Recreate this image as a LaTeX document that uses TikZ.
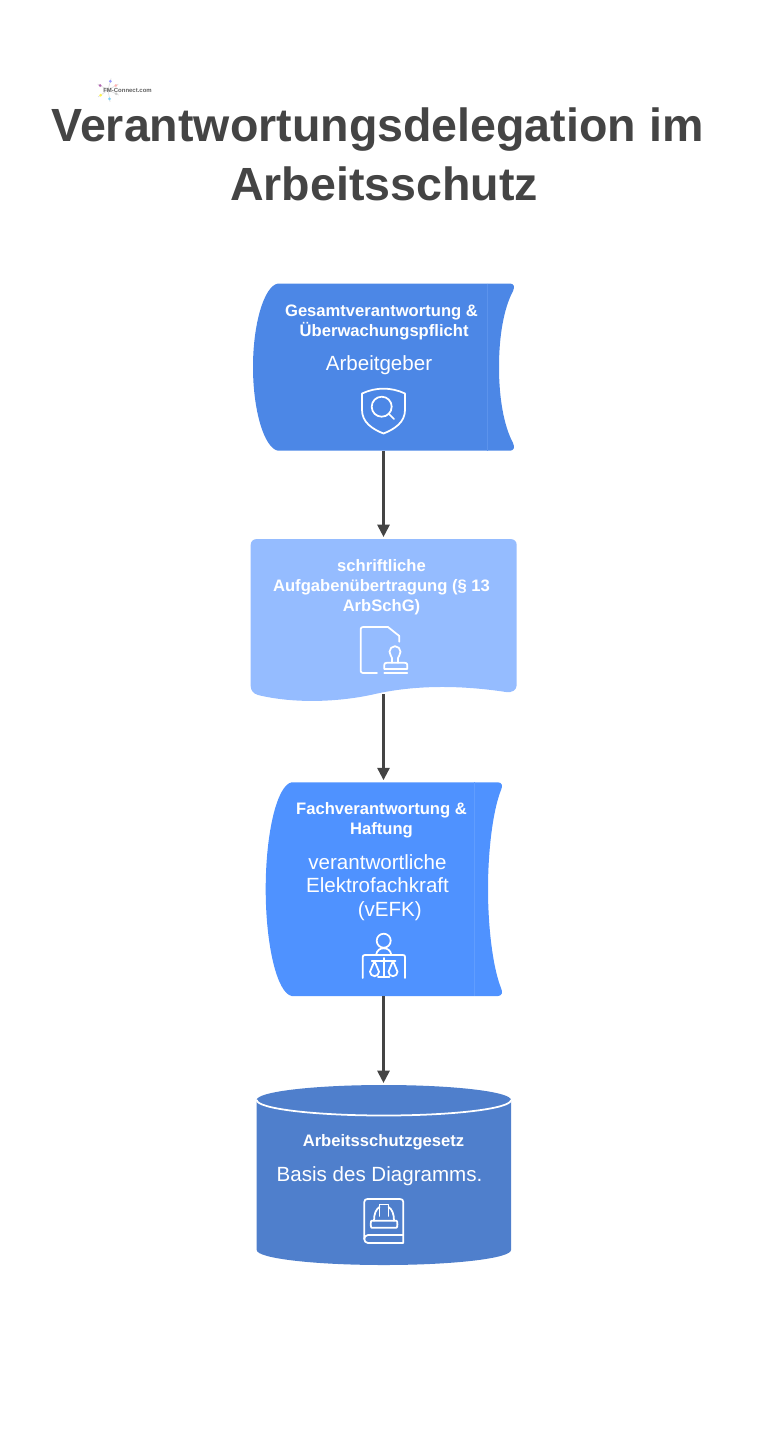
\documentclass[tikz,border=0pt]{standalone}
\usepackage{fontspec}
\setmainfont{Liberation Sans}
\usetikzlibrary{arrows.meta}
\definecolor{darkgrey}{HTML}{444444}
\definecolor{boxone}{HTML}{4C87E6}
\definecolor{boxonel}{HTML}{5C93EC}
\definecolor{boxtwo}{HTML}{95BCFF}
\definecolor{boxthree}{HTML}{4F92FF}
\definecolor{boxthreel}{HTML}{609DFF}
\definecolor{boxfour}{HTML}{4F7FCC}
\tikzset{
  heading/.style={text=darkgrey,align=center,inner sep=0pt,font=\fontsize{26.5}{33.7}\selectfont\bfseries},
  boldtext/.style={text=white,align=center,inner sep=0pt,font=\fontsize{9.45}{11.4}\selectfont\bfseries},
  plaintext/.style={text=white,align=center,inner sep=0pt,font=\fontsize{11.7}{13.3}\selectfont},
  anchorbox/.style={inner sep=0pt,minimum width=#1},
  icon/.style={white,line width=1pt,line cap=round,line join=round},
  link/.style={darkgrey,line width=1.2pt,-{Triangle[length=7pt,width=7pt]},shorten >=1pt}
}
\begin{document}
\begin{tikzpicture}[x=0.02cm,y=0.02cm]
\useasboundingbox (0,0) rectangle (769,-1451);
% logo
\foreach \ang/\col in {75/blue!40,150/violet!60,215/yellow!70,280/cyan!50,335/gray!40,30/red!30} {
  \draw [gray!25,line width=0.4pt] (108,-90) -- ++(\ang:12);
  \fill [\col] (108,-90) ++(\ang:9) circle (1.5);
}
\node (logo) at (127.5,-90.5) [inner sep=0pt,text=darkgrey!85,font=\fontsize{3.4}{4}\selectfont\bfseries] {FM-Connect.com};
% title
\node (title) at (377.5,-154) [heading] {Verantwortungsdelegation im\\\hspace*{7.4pt}Arbeitsschutz};
% box one
\draw [fill=boxone,draw=none] (278,-283.5) -- (510,-283.5) .. controls (514,-283.5) and (515,-287) .. (513,-291) .. controls (504,-308) and (499,-335) .. (499,-367) .. controls (499,-399) and (504,-426) .. (513,-443) .. controls (515,-447) and (514,-450.7) .. (510,-450.7) -- (278,-450.7) .. controls (264,-448) and (253,-410) .. (253,-367) .. controls (253,-324) and (264,-286) .. (278,-283.5);
\draw [boxonel,line width=0.5pt] (487,-283.5) -- (487,-450.7);
\node (gesamt) at (383.5,-367) [anchorbox=5.2cm,minimum height=3.344cm] {};
\node (gesamthead) at (381.5,-322) [boldtext] {Gesamtverantwortung \&\\\hspace*{3pt}Überwachungspflicht};
\node (arbeitgeber) at (379,-365) [plaintext] {Arbeitgeber};
\draw [icon] (383.5,-433.5) .. controls (372,-429) and (362,-422) .. (362,-410) -- (362,-393.5) .. controls (376,-387) and (391,-387) .. (405,-393.5) -- (405,-410) .. controls (405,-422) and (395,-429) .. (383.5,-433.5);
\draw [icon] (381.7,-406.7) circle (10);
\draw [icon] (389,-414) -- (394,-419);
% box two
\draw [fill=boxtwo,draw=none] (257,-539) -- (510,-539) .. controls (514.5,-539) and (516.7,-541.5) .. (516.7,-545) -- (516.7,-685) .. controls (516.7,-690) and (512,-693) .. (506,-692) .. controls (460,-685) and (415,-685) .. (375,-694) .. controls (340,-702) and (295,-704) .. (258,-695) .. controls (253,-693.5) and (250.7,-690) .. (250.7,-686) -- (250.7,-545) .. controls (250.7,-541.5) and (253,-539) .. (257,-539);
\node (aufgabe) at (383.5,-616.5) [anchorbox=5.3cm,minimum height=3.1cm] {};
\node (aufgabehead) at (381.5,-587) [boldtext] {schriftliche\\Aufgabenübertragung (§ 13\\ArbSchG)};
\draw [icon] (377,-673) -- (363,-673) .. controls (361.5,-673) and (360.7,-672) .. (360.7,-671) -- (360.7,-629) .. controls (360.7,-628) and (361.5,-627) .. (363,-627) -- (388,-627) -- (399.3,-636) -- (399.3,-641.7);
\draw [icon] (392,-662.7) -- (392,-658) .. controls (392,-656.5) and (389.5,-655) .. (389.5,-651.7) arc (180:0:5.5) .. controls (400.5,-655) and (398,-656.5) .. (398,-658) -- (398,-662.7);
\draw [icon] (384.3,-669) -- (384.3,-665) .. controls (384.3,-663.5) and (385,-662.7) .. (387,-662.7) -- (404.5,-662.7) .. controls (406.5,-662.7) and (407.3,-663.5) .. (407.3,-665) -- (407.3,-669) -- cycle;
\draw [icon] (384.3,-673) -- (407.3,-673);
% box three
\draw [fill=boxthree,draw=none] (291.7,-782.3) -- (498,-782.3) .. controls (502,-782.3) and (503,-786) .. (501,-790) .. controls (493,-810) and (488,-850) .. (488,-889) .. controls (488,-928) and (493,-968) .. (501,-988) .. controls (503,-992) and (502,-996) .. (498,-996) -- (291.7,-996) .. controls (277,-993) and (265.7,-945) .. (265.7,-889) .. controls (265.7,-833) and (277,-785) .. (291.7,-782.3);
\draw [boxthreel,line width=0.5pt] (474,-782.3) -- (474,-996);
\node (fach) at (383.5,-889) [anchorbox=4.7cm,minimum height=4.274cm] {};
\node (fachhead) at (381.5,-820) [boldtext] {Fachverantwortung \&\\Haftung};
\node (vefk) at (377.5,-887.5) [plaintext] {verantwortliche\\Elektrofachkraft\\\hspace*{14pt}(vEFK)};
\draw [icon] (383.7,-940.7) circle (7);
\draw [icon] (376,-955) .. controls (377,-950) and (380,-948.3) .. (383.7,-948.3) .. controls (387.4,-948.3) and (390.4,-950) .. (391.4,-955);
\draw [icon] (362.7,-978) -- (362.7,-957) .. controls (362.7,-955.7) and (363.5,-955) .. (365,-955) -- (403,-955) .. controls (404.5,-955) and (405,-955.7) .. (405,-957) -- (405,-978);
\draw [icon] (383.7,-958) -- (383.7,-976.7);
\draw [icon] (378,-976.7) -- (389.5,-976.7);
\draw [icon] (371.7,-960.7) -- (395.5,-960.7);
\draw [icon] (374.5,-961) -- (370,-971.7) arc (180:360:4.5) -- cycle;
\draw [icon] (393,-961) -- (388.5,-971.7) arc (180:360:4.5) -- cycle;
% box four
\draw [fill=boxfour,draw=none] (256.7,-1100) arc (180:0:127.15 and 15) -- (511,-1250) arc (0:-180:127.15 and 15) -- cycle;
\draw [white,line width=1pt] (256.7,-1100) arc (180:360:127.15 and 15.5);
\node (gesetz) at (383.5,-1175) [anchorbox=5.08cm,minimum height=3.6cm] {};
\node (gesetzhead) at (383.5,-1142.5) [boldtext] {Arbeitsschutzgesetz};
\node (basis) at (379.5,-1176) [plaintext] {Basis des Diagramms.};
\draw [icon] (403.3,-1235) -- (368,-1235) .. controls (365.5,-1235) and (364.3,-1237) .. (364.3,-1239) .. controls (364.3,-1241) and (365.5,-1243) .. (368,-1243) -- (403.3,-1243) -- (403.3,-1235);
\draw [icon] (364.3,-1239) -- (364.3,-1202) .. controls (364.3,-1200) and (365.5,-1199) .. (367.5,-1199) -- (400,-1199) .. controls (402,-1199) and (403.3,-1200) .. (403.3,-1202) -- (403.3,-1235);
\draw [icon] (373,-1220.7) -- (371.5,-1220.7) .. controls (370.5,-1220.7) and (370.5,-1227.7) .. (371.5,-1227.7) -- (396.5,-1227.7) .. controls (397.7,-1227.7) and (397.7,-1220.7) .. (396.5,-1220.7) -- cycle;
\draw [icon] (374,-1220.7) .. controls (374,-1214) and (376,-1209) .. (379.5,-1207);
\draw [icon] (394,-1220.7) .. controls (394,-1214) and (392,-1209) .. (388.5,-1207);
\draw [icon] (379.5,-1216) -- (379.5,-1204.5) -- (388.5,-1204.5) -- (388.5,-1216);
% links
\draw [link] (gesamt.south) -- (aufgabe.north);
\draw [link] (aufgabe.south) -- (fach.north);
\draw [link] (fach.south) -- (gesetz.north);
\end{tikzpicture}
\end{document}
